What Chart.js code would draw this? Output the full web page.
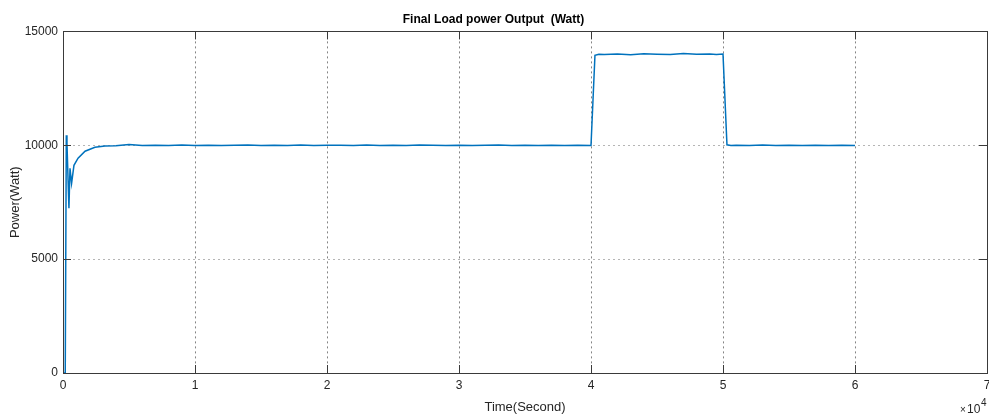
<!DOCTYPE html>
<html>
<head>
<meta charset="utf-8">
<script src="https://cdn.jsdelivr.net/npm/chart.js@4/dist/chart.umd.min.js"></script>
<style>
  html, body { margin: 0; padding: 0; background: #fff; }
  #wrap { width: 989px; height: 415px; }
</style>
</head>
<body>
<div id="wrap"><canvas id="my-chart" width="989" height="415"></canvas></div>
<script>
'use strict';

// DATA (time in seconds, power in watts)
let timeSec = [
  0, 170, 250, 300, 450, 530, 650, 830, 1140, 1670, 2420, 3180,
  4000, 5000, 6000, 7000, 8000, 9000, 10000, 11000, 12000, 13000,
  14000, 15000, 16000, 17000, 18000, 19000, 20000, 21000, 22000, 23000,
  24000, 25000, 26000, 27000, 28000, 29000, 30000, 31000, 32000, 33000,
  34000, 35000, 36000, 37000, 38000, 39000, 40000,
  40300, 40600, 41000, 42000, 43000, 44000, 45000, 46000, 47000, 48000, 49000, 49500, 50000,
  50300, 50600, 51000, 52000, 53000, 54000, 55000, 56000, 57000, 58000, 59000, 60000
];
let powerWatt = [
  0, 0, 10440, 10100, 7240, 8990, 8330, 9120, 9430, 9740, 9910, 9970,
  9980, 10030, 9990, 10000, 9985, 10010, 9995, 10005, 9990, 10000,
  10010, 9990, 10000, 9995, 10015, 9990, 10000, 10005, 9990, 10010,
  9995, 10000, 9990, 10010, 10000, 9995, 10005, 9990, 10000, 10010,
  9995, 10000, 9990, 10005, 9995, 10000, 9990,
  13950, 14000, 13990, 14010, 13980, 14020, 14000, 13990, 14030, 13995, 14010, 13990, 14010,
  10020, 9990, 10000, 9985, 10010, 9990, 10005, 9990, 10000, 9985, 10000, 9990
];
let xTicks = [0, 10000, 20000, 30000, 40000, 50000, 60000, 70000];
let yTicks = [0, 5000, 10000, 15000];

let points = [];
for (let i = 0; i < timeSec.length; i++) {
  points.push({ x: timeSec[i], y: powerWatt[i] });
}

let fontFamily = '"Liberation Sans", Arial, sans-serif';

// BOX, INWARD TICKS AND EXPONENT LABEL
let boxPlugin = {
  id: 'boxPlugin',
  afterDraw(chart) {
    let ctx = chart.ctx;
    let a = chart.chartArea;
    ctx.save();
    ctx.strokeStyle = '#3a3a3a';
    ctx.lineWidth = 1;
    ctx.strokeRect(Math.round(a.left) + 0.5, Math.round(a.top) + 0.5,
      Math.round(a.right - a.left), Math.round(a.bottom - a.top));
    let xs = chart.scales.x;
    let ys = chart.scales.y;
    ctx.beginPath();
    xTicks.forEach(function (v) {
      let px = Math.round(xs.getPixelForValue(v)) + 0.5;
      ctx.moveTo(px, a.bottom); ctx.lineTo(px, a.bottom - 8);
      ctx.moveTo(px, a.top); ctx.lineTo(px, a.top + 8);
    });
    yTicks.forEach(function (v) {
      let py = Math.round(ys.getPixelForValue(v)) + 0.5;
      ctx.moveTo(a.left, py); ctx.lineTo(a.left + 8, py);
      ctx.moveTo(a.right, py); ctx.lineTo(a.right - 8, py);
    });
    ctx.stroke();
    // x10^4
    ctx.fillStyle = '#262626';
    ctx.textBaseline = 'alphabetic';
    ctx.font = '10px ' + fontFamily;
    ctx.fillText('\u00d7', 960, 413);
    ctx.font = '12px ' + fontFamily;
    ctx.fillText('10', 967, 413);
    ctx.font = '10px ' + fontFamily;
    ctx.fillText('4', 981, 406);
    ctx.restore();
  }
};

let theChart = {
  type: 'line',
  data: {
    datasets: [{
      data: points,
      borderColor: '#0072BD',
      borderWidth: 1.5,
      pointRadius: 0,
      tension: 0,
      fill: false
    }]
  },
  options: {
    responsive: false,
    animation: false,
    layout: { padding: { left: 0, right: 2, top: 0, bottom: 0 } },
    plugins: {
      legend: { display: false },
      tooltip: { enabled: false },
      title: {
        display: true,
        text: 'Final Load power Output  (Watt)',
        color: '#000',
        font: { family: fontFamily, size: 12, weight: 'bold' },
        padding: { top: 12, bottom: 5 }
      }
    },
    scales: {
      x: {
        type: 'linear',
        min: 0,
        max: 70000,
        afterBuildTicks(scale) {
          scale.ticks = xTicks.map(function (v) { return { value: v }; });
        },
        afterFit(scale) {
          scale.height = 42;
          scale.paddingRight = 0;
          scale.paddingLeft = 0;
        },
        ticks: {
          color: '#262626',
          font: { family: fontFamily, size: 12 },
          padding: 5,
          maxRotation: 0,
          callback: function (v) { return String(v / 10000); }
        },
        grid: {
          drawTicks: false,
          color: 'rgba(50,50,50,0.6)',
          lineWidth: 1
        },
        border: { display: false, dash: [2, 3] },
        title: {
          display: true,
          text: 'Time(Second)',
          color: '#262626',
          font: { family: fontFamily, size: 13 },
          padding: { top: 3, bottom: 0 }
        }
      },
      y: {
        min: 0,
        max: 15000,
        afterBuildTicks(scale) {
          scale.ticks = yTicks.map(function (v) { return { value: v }; });
        },
        afterFit(scale) { scale.width = 63; },
        ticks: {
          color: '#262626',
          font: { family: fontFamily, size: 12 },
          padding: 5,
          callback: function (v) { return String(v); }
        },
        grid: {
          drawTicks: false,
          color: 'rgba(90,90,90,0.45)',
          lineWidth: 1
        },
        border: { display: false, dash: [2, 3] },
        title: {
          display: true,
          text: 'Power(Watt)',
          color: '#262626',
          font: { family: fontFamily, size: 13 },
          padding: { top: 8, bottom: 2 }
        }
      }
    }
  },
  plugins: [boxPlugin]
};

let canvasElem = document.getElementById('my-chart');
new Chart(canvasElem, theChart);
</script>
</body>
</html>
